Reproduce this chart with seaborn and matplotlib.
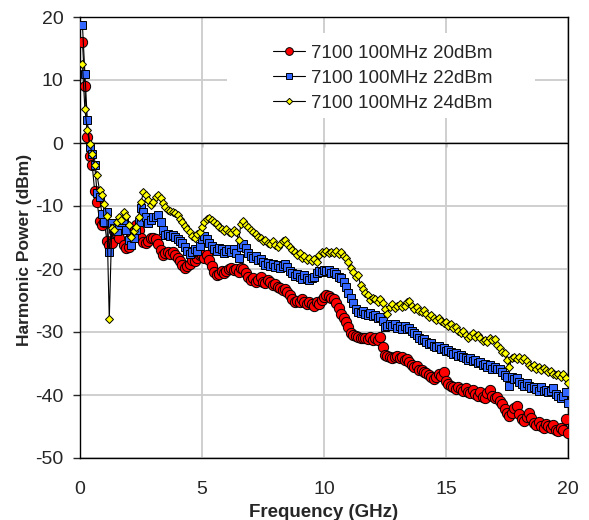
import numpy as np
import pandas as pd
import matplotlib
matplotlib.use("Agg")
import matplotlib.pyplot as plt
from matplotlib.patches import Rectangle
import seaborn as sns

# harmonics of the 100 MHz tone: 0.1 GHz ... 20 GHz
freq_ghz = np.arange(1, 201) / 10

p20 = [16, 9, 1, -2, -3.5, -7.6, -9.3, -12.4, -13, -12.5,
       -15.5, -16.2, -15.8, -14, -14.5, -15, -13.5, -16.2, -16.7, -16.5,
       -14.5, -13.5, -13, -13.8, -15, -15.7, -15.9, -15.5, -15, -15,
       -15.2, -16, -17, -17.8, -17.5, -17.3, -17.6, -17.3, -17.8, -18.2,
       -18.8, -19.4, -19.8, -19.6, -19.2, -18.6, -18.8, -18.3, -17.8, -17.8,
       -18.2, -17.8, -18.5, -19.5, -20.5, -21, -20.8, -20.3, -20.6, -20.3,
       -20, -19.8, -20.2, -20, -20.4, -19.8, -20, -20.6, -21.2, -21.8,
       -21.5, -22, -21.7, -21.3, -22, -22.2, -21.8, -22, -22.5, -22.4,
       -22.8, -23, -23.4, -23.2, -23.6, -24.2, -24.8, -25.2, -25, -25.3,
       -24.8, -25.3, -25.5, -25.2, -25.6, -25.8, -25.2, -25.6, -24.9, -24.4,
       -24.2, -24.3, -24.6, -24.8, -25.4, -26.2, -27.2, -27.8, -28.4, -29.2,
       -30.2, -30.5, -30.6, -30.8, -30.9, -31, -30.9, -31.1, -30.8, -31.2,
       -31, -31.2, -30.8, -32.4, -33.6, -33.8, -33.9, -34.1, -34, -33.8,
       -34.2, -34, -34.4, -34.3, -34.7, -35.2, -35.6, -35.4, -36, -36.1,
       -36.4, -36.5, -36.9, -37.1, -37.4, -37.1, -36.6, -37, -36.4, -37.8,
       -38.3, -38.6, -38.8, -39, -38.7, -39.1, -39.3, -38.9, -39.5, -39.7,
       -39.2, -39.9, -40.1, -39.6, -40.3, -40.5, -39.7, -39.2, -40.2, -40.5,
       -40.3, -41, -41.5, -42.2, -42.8, -43.3, -42.9, -42, -41.8, -43,
       -43.8, -44.2, -43.5, -42.9, -43.7, -44.4, -44.7, -44.3, -44.9, -45.2,
       -44.6, -44.9, -45.3, -44.8, -45.5, -45.7, -45.2, -45.6, -43.8, -46.1]

p22 = [18.7, 11, 3.6, -0.6, -1.8, -3.5, -7.9, -8.6, -11.2, -12.5,
       -11, -17.3, -12.7, -13.5, -14, -13, -12.5, -12.2, -13.8, -15.4,
       -16.2, -15, -13.8, -12.5, -10.3, -11, -11.7, -12.7, -12.2, -11.7,
       -11.8, -11.4, -12.5, -13.8, -14.6, -14.4, -14.8, -14.6, -14.9, -15.3,
       -15.6, -15.9, -16.5, -17.2, -17.6, -17.3, -16.9, -17.1, -16.4, -15.2,
       -14.8, -15.3, -15.8, -16.3, -16.8, -17.2, -16.6, -16.9, -17.4, -17.1,
       -16.8, -17.3, -16.9, -17.5, -18.2, -16.5, -16, -16.6, -17.5, -17.9,
       -18.3, -18, -18.6, -18.4, -18.9, -19.3, -19, -19.6, -19.2, -19.7,
       -19.4, -19.8, -19.5, -19.2, -19.7, -20.3, -20.6, -21.1, -20.8, -21.2,
       -21.6, -20.9, -21.4, -21.8, -21.5, -21.2, -20.6, -20.3, -20.5, -20.1,
       -20.3, -20.2, -20.6, -20.4, -20.8, -21.2, -21.5, -22.1, -22.8, -23.8,
       -24.6, -25.4, -26.3, -26.8, -27, -26.7, -27.1, -27.3, -27, -27.5,
       -27.3, -27.8, -27.6, -28.2, -29.2, -29, -28.7, -29.1, -28.8, -29.4,
       -29.1, -29.5, -29, -29.6, -29.3, -29.8, -30.2, -30.5, -30.9, -31.3,
       -31.1, -31.6, -31.9, -31.7, -32.2, -32.4, -32.2, -32.7, -32.5, -33,
       -32.8, -33.2, -33.5, -33.3, -33.8, -33.6, -34, -34.2, -34.5, -34.2,
       -34.6, -34.4, -34.9, -34.7, -35.2, -35, -35.5, -35.3, -35.8, -35.6,
       -35.9, -35.8, -36.3, -36.8, -37.2, -38.5, -37.1, -37.5, -37.3, -37.9,
       -38.2, -38.5, -38.1, -38.6, -38.9, -38.7, -39.1, -39.3, -38.8, -39.4,
       -39.2, -39.6, -39.4, -38.9, -39.8, -40.1, -40.4, -40.2, -39.5, -41.2]

p24 = [12.5, 5.4, 2, -0.2, -1.7, -3.5, -5.1, -7.5, -8.3, -9.7,
       -11.6, -28, -13.5, -13.8, -12.5, -11.8, -12.2, -11, -11.6, -13,
       -14.9, -14, -13.3, -11.7, -9.4, -7.8, -8.3, -9, -9.8, -9.4,
       -8.6, -8.3, -8.8, -9.6, -10.2, -10.6, -10.8, -11, -11.1, -11.5,
       -12, -12.6, -13.1, -13.6, -14.2, -14.8, -15.1, -14.4, -14.2, -13.3,
       -12.6, -12.1, -11.9, -12.3, -12.5, -12.8, -13.4, -13.7, -14, -13.6,
       -14.1, -14.3, -13.8, -14.2, -15.4, -12.8, -12.4, -13, -13.4, -13.8,
       -14.2, -14.5, -14.9, -15.1, -15.6, -15.4, -15.8, -16, -15.6, -16.2,
       -16.5, -16, -15.6, -15.4, -16, -16.5, -17, -17.3, -17.8, -17.5,
       -18.2, -17.9, -18.5, -18.2, -18.8, -18.4, -18.9, -17.8, -17.3, -17.4,
       -17.2, -17.4, -17.3, -17.5, -17.2, -17.6, -17.3, -17.9, -18.2, -18.9,
       -19.8, -20.5, -21.2, -21, -22.6, -23.2, -23.8, -24.2, -24.9, -24.6,
       -24.8, -25.2, -24.7, -25.4, -26.4, -27.2, -26, -25.6, -26.2, -25.8,
       -25.5, -26.1, -25.8, -25.3, -25, -25.8, -26.3, -26, -26.6, -26.9,
       -26.5, -27.2, -27.6, -27.3, -27.8, -28.1, -27.7, -28.3, -28.6, -28.4,
       -29, -28.8, -29.4, -29.2, -29.8, -30.2, -29.9, -30.5, -31, -30.6,
       -30.2, -30.8, -30.5, -31, -31.4, -31.2, -31.6, -31, -31.3, -31.1,
       -32, -32.6, -33.1, -33.4, -34.4, -35.5, -34.2, -33.9, -34.3, -34,
       -34.4, -34.1, -34.6, -35.2, -35.5, -35.3, -35.8, -35.6, -36, -35.7,
       -36.1, -36.4, -36.2, -36.6, -36.9, -36.7, -37.1, -36.6, -37.3, -38.1]

labels = ["7100 100MHz 20dBm", "7100 100MHz 22dBm", "7100 100MHz 24dBm"]
colors = ["#ff0000", "#3366ff", "#ffff00"]
markers = ["o", "s", "D"]
sizes = [7.4, 5.2, 4.3]

sns.set_style("ticks")
plt.rcParams["font.family"] = ["Liberation Sans", "DejaVu Sans"]
plt.rcParams["axes.unicode_minus"] = False

fig = plt.figure(figsize=(5.89, 5.2), dpi=100)
ax = fig.add_axes([80 / 589, 62 / 520, 488 / 589, 441 / 520])

for vals, lab, col, mk, ms in zip([p20, p22, p24], labels, colors, markers, sizes):
    df = pd.DataFrame({"Frequency": freq_ghz, "Power": vals})
    sns.lineplot(data=df, x="Frequency", y="Power", ax=ax, sort=False,
                 color="black", lw=0.8, marker=mk, markersize=ms,
                 markerfacecolor=col, markeredgecolor="black",
                 markeredgewidth=0.7, label=lab, zorder=3)

ax.set_xlim(0, 20)
ax.set_ylim(-50, 20)
ax.set_xticks([0, 5, 10, 15, 20])
ax.set_yticks([-50, -40, -30, -20, -10, 0, 10, 20])
ax.grid(True, color="#cccccc", lw=1.3)
ax.set_axisbelow(True)
for s in ax.spines.values():
    s.set_color("black")
    s.set_linewidth(1.0)

# x axis line crosses at 0 dBm, labels stay at the bottom
ax.axhline(0, color="black", lw=1.0, zorder=1.5)
zero_ax = ax.secondary_xaxis(0, transform=ax.transData)
zero_ax.set_xticks([5, 10, 15])
zero_ax.tick_params(direction="out", length=3, width=1, labelbottom=False)
zero_ax.spines["bottom"].set_visible(False)

ax.tick_params(axis="x", length=0, pad=16.5, labelsize=14)
ax.tick_params(axis="y", direction="out", length=5, width=1, pad=7, labelsize=14, left=True)

ax.set_xlabel("Frequency (GHz)", fontsize=13.5, fontweight="bold", labelpad=4.5)
ax.set_ylabel("Harmonic Power (dBm)", fontsize=12.5, fontweight="bold")
ax.yaxis.set_label_coords(-0.098, 0.472)

# white legend area covering the gridlines
ax.add_patch(Rectangle((0.301, 0.771), 0.631, 0.193, transform=ax.transAxes,
                       facecolor="white", edgecolor="none", zorder=1))
ax.legend(loc="upper left", bbox_to_anchor=(0.395, 0.937), frameon=False,
          fontsize=13.5, handlelength=1.7, handletextpad=0.32, labelspacing=0.42,
          borderpad=0, borderaxespad=0, markerscale=0.75)

fig.savefig("out.png", dpi=100)
